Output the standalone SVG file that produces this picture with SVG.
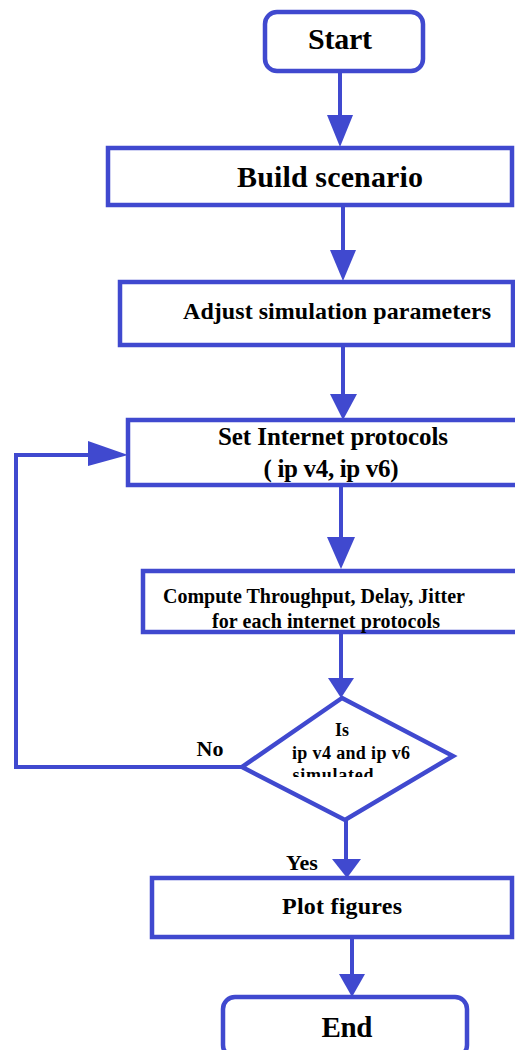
<svg xmlns="http://www.w3.org/2000/svg" width="515" height="1050" viewBox="0 0 515 1050">
<style>
.box{fill:#fff;stroke:#4049cf;stroke-width:4.5}
.ln{fill:none;stroke:#4049cf;stroke-width:4}
.ah{fill:#4049cf;stroke:none}
.t{font-family:'Liberation Serif','DejaVu Serif','Times New Roman',serif;font-weight:bold;fill:#000;text-anchor:middle}
</style>
<defs>
<clipPath id="clipDia"><rect x="200" y="690" width="300" height="87"/></clipPath>
</defs>
<rect width="515" height="1050" fill="#fff"/>
<g id="connectors">
<line class="ln" x1="340" y1="71" x2="340" y2="120"/>
<polygon class="ah" points="327,115 353,115 340,147"/>
<line class="ln" x1="343" y1="205" x2="343" y2="255"/>
<polygon class="ah" points="330,250 356,250 343,281"/>
<line class="ln" x1="343" y1="345" x2="343" y2="400"/>
<polygon class="ah" points="330,394 357,394 343,420"/>
<line class="ln" x1="341" y1="485" x2="341" y2="540"/>
<polygon class="ah" points="327,537 355,537 341,569"/>
<line class="ln" x1="341" y1="632" x2="341" y2="682"/>
<polygon class="ah" points="328,678 354,678 341,698"/>
<polyline class="ln" points="242,767 16,767 16,455 95,455"/>
<polygon class="ah" points="88,441 128,455 88,466"/>
<line class="ln" x1="346" y1="820" x2="346" y2="862"/>
<polygon class="ah" points="332,859 361,859 347,878"/>
<line class="ln" x1="352" y1="937" x2="352" y2="978"/>
<polygon class="ah" points="339,974 365,974 352,997"/>
</g>
<g id="start">
<rect class="box" x="265" y="12" width="158" height="59" rx="12"/>
<text class="t" x="340" y="49" font-size="30" textLength="64">Start</text>
</g>
<g id="build">
<rect class="box" x="108" y="148" width="404" height="57"/>
<text class="t" x="330" y="187" font-size="30" textLength="186">Build scenario</text>
</g>
<g id="adjust">
<rect class="box" x="120" y="282" width="393" height="63"/>
<text class="t" x="337" y="319" font-size="24" textLength="308">Adjust simulation parameters</text>
</g>
<g id="setip">
<rect class="box" x="128" y="420" width="400" height="65"/>
<text class="t" x="333" y="445" font-size="25" textLength="230">Set Internet protocols</text>
<text class="t" x="331" y="477" font-size="25" textLength="135">( ip v4, ip v6)</text>
</g>
<g id="compute">
<rect class="box" x="143" y="571" width="385" height="61"/>
<text class="t" x="314" y="603" font-size="20" textLength="302">Compute Throughput, Delay, Jitter</text>
<text class="t" x="326" y="628" font-size="20" textLength="228">for each internet protocols</text>
</g>
<g id="decision">
<polygon class="box" points="342,698 453,756 345,820 242,767"/>
<text class="t" x="342" y="736" font-size="18">Is</text>
<text class="t" x="351" y="759" font-size="18" textLength="118">ip v4 and ip v6</text>
<text class="t" x="333" y="781" font-size="18" textLength="81" clip-path="url(#clipDia)">simulated</text>
</g>
<g id="labels">
<text class="t" x="210" y="756" font-size="22">No</text>
<text class="t" x="302" y="870" font-size="22">Yes</text>
</g>
<g id="plot">
<rect class="box" x="152" y="878" width="360" height="59"/>
<text class="t" x="342" y="914" font-size="24" textLength="120">Plot figures</text>
</g>
<g id="end">
<rect class="box" x="223" y="997" width="244" height="60" rx="12"/>
<text class="t" x="347" y="1037" font-size="29" textLength="51">End</text>
</g>
</svg>
